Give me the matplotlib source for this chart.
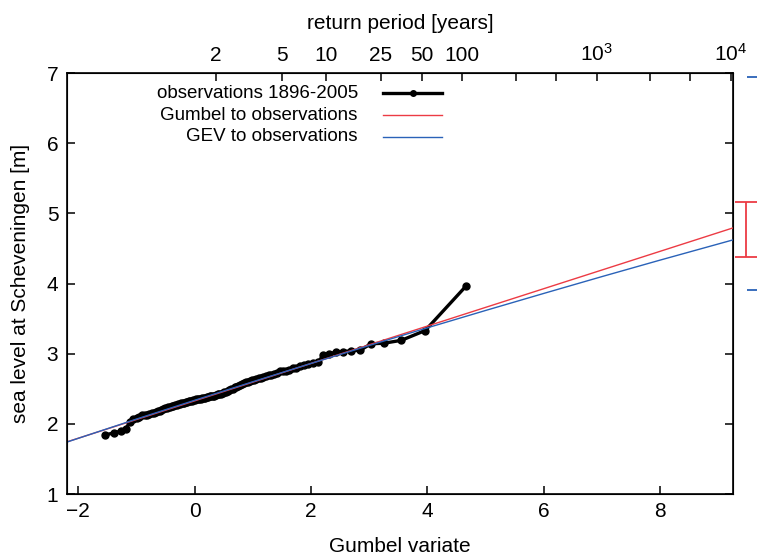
import numpy as np
import matplotlib.pyplot as plt

plt.rcParams['font.family'] = ['Liberation Sans', 'DejaVu Sans']
plt.rcParams['mathtext.fontset'] = 'custom'
plt.rcParams['mathtext.rm'] = 'Liberation Sans'
plt.rcParams['mathtext.it'] = 'Liberation Sans'
plt.rcParams['mathtext.bf'] = 'Liberation Sans'

# annual maximum sea level at Scheveningen [m], sorted
obs_level = [1.84, 1.875, 1.895, 1.92, 2.03, 2.07, 2.08, 2.10, 2.12, 2.12,
             2.13, 2.14, 2.15, 2.16, 2.17, 2.18, 2.19, 2.20, 2.21, 2.22,
             2.23, 2.24, 2.24, 2.25, 2.26, 2.27, 2.27, 2.28, 2.28, 2.29,
             2.29, 2.30, 2.31, 2.31, 2.32, 2.33, 2.33, 2.34, 2.34, 2.35,
             2.35, 2.36, 2.36, 2.37, 2.37, 2.37, 2.38, 2.38, 2.39, 2.39,
             2.40, 2.40, 2.41, 2.42, 2.42, 2.43, 2.44, 2.45, 2.46, 2.47,
             2.48, 2.49, 2.50, 2.52, 2.53, 2.54, 2.56, 2.57, 2.58, 2.59,
             2.60, 2.61, 2.62, 2.63, 2.64, 2.65, 2.66, 2.67, 2.68, 2.69,
             2.70, 2.71, 2.73, 2.75, 2.75, 2.76, 2.77, 2.79, 2.80, 2.82,
             2.84, 2.85, 2.86, 2.88, 2.98, 3.00, 3.02, 3.03, 3.04, 3.05,
             3.14, 3.15, 3.19, 3.33, 3.96]

# fitted curves (Gumbel variate -> level)
gumbel_x = [-2.5, 9.5]
gumbel_y = [1.662, 4.859]
gev_x = [-2.5, -1, 0, 1, 2, 3, 4, 5, 6, 7, 8, 9.5]
gev_y = [1.657, 2.068, 2.336, 2.600, 2.861, 3.117, 3.369, 3.616, 3.859,
         4.099, 4.334, 4.679]

# confidence ranges for the 10^4 year level
ci_gumbel = (9.48, 4.38, 5.16)
ci_gev = (9.68, 3.91, 6.94)

# return periods on top axis
T_major = [2, 5, 10, 25, 50, 100, 1000, 10000]
T_labels = ['2', '5', '10', '25', '50', '100', r'$10^3$', r'$10^4$']
T_minor = [250, 500, 2500, 5000]

red = '#ec3b44'
blue = '#2a62b8'

# Weibull plotting positions -> Gumbel variate
n = len(obs_level)
rank = np.arange(1, n + 1)
obs_x = -np.log(-np.log(rank / (n + 1)))

fig = plt.figure(figsize=(7.57, 5.56), dpi=100)
ax = fig.add_axes([66.7 / 757, 1 - 494 / 556, (733 - 66.7) / 757, (494 - 73) / 556])

ax.plot(gumbel_x, gumbel_y, color=red, lw=1.0, zorder=3)
ax.plot(gev_x, gev_y, color=blue, lw=1.0, zorder=3)
ax.plot(obs_x, obs_level, color='black', lw=2.4, marker='o', ms=5, zorder=2)

for (xc, lo, hi), c in [(ci_gumbel, red), (ci_gev, blue)]:
    eb = ax.errorbar(xc, (lo + hi) / 2, yerr=(hi - lo) / 2, color=c, lw=1.3,
                     capsize=8, capthick=1.3, fmt='none')
    for art in eb.get_children():
        art.set_clip_on(False)

ax.set_xlim(-2.2, 9.25)
ax.set_ylim(1, 7)
ax.set_xticks([-2, 0, 2, 4, 6, 8])
ax.set_xticklabels(['\u22122', '0', '2', '4', '6', '8'])
ax.set_yticks([1, 2, 3, 4, 5, 6, 7])
ax.tick_params(direction='in', length=6, width=1.1, labelsize=15, pad=6,
               right=True)
for s in ax.spines.values():
    s.set_linewidth(1.2)
ax.set_xlabel('Gumbel variate', fontsize=15, labelpad=11)
ax.set_ylabel('sea level at Scheveningen [m]', fontsize=15, labelpad=12)

ax2 = ax.twiny()
ax2.set_xlim(ax.get_xlim())
ax2.set_xticks([-np.log(-np.log(1 - 1 / t)) for t in T_major])
ax2.set_xticklabels(T_labels)
ax2.set_xticks([-np.log(-np.log(1 - 1 / t)) for t in T_minor], minor=True)
ax2.tick_params(which='both', direction='in', length=6, width=1.1,
                labelsize=15, pad=6)
ax2.set_xlabel('return period [years]', fontsize=15, labelpad=10)

# legend, gnuplot style (text right-aligned, sample on the right)
labels = ['observations 1896-2005', 'Gumbel to observations', 'GEV to observations']
styles = [dict(color='black', lw=2.4), dict(color=red, lw=1.0), dict(color=blue, lw=1.0)]
rows = [0.952, 0.900, 0.848]
for lab, st, yy in zip(labels, styles, rows):
    ax.text(0.437, yy, lab, transform=ax.transAxes, ha='right', va='center',
            fontsize=13.5)
    ax.plot([0.475, 0.564], [yy, yy], transform=ax.transAxes, **st)
ax.plot([0.520], [rows[0]], transform=ax.transAxes, marker='o', ms=4,
        color='black')

fig.savefig('out.png', dpi=100)
